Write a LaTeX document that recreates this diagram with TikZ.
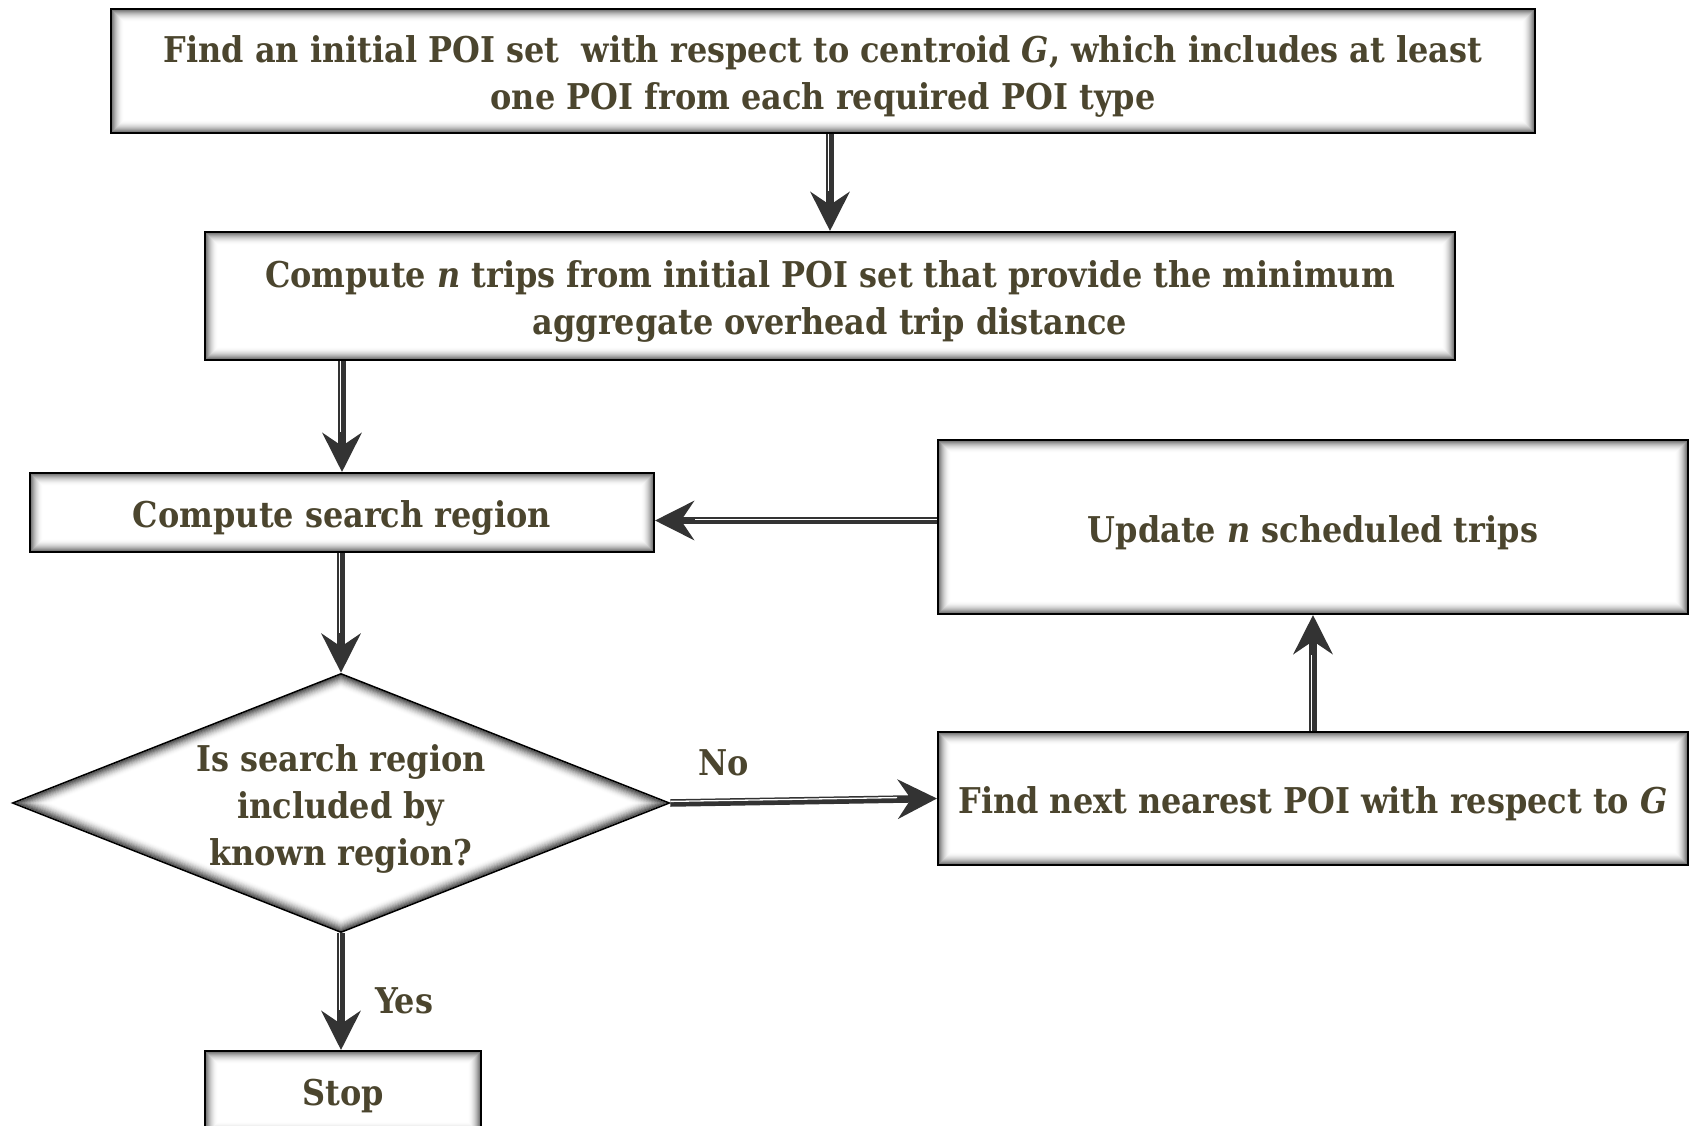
\documentclass[tikz,border=0pt]{standalone}
\usepackage{fontspec}
\setmainfont{DejaVu Serif Condensed}
\usetikzlibrary{arrows.meta,shapes.geometric,calc}
\definecolor{txt}{RGB}{75,69,46}
\definecolor{arrc}{RGB}{51,51,51}
\pgfdeclarelayer{bg}
\pgfsetlayers{bg,main}

% taller first line, so the text sits a little below the box centre
\newcommand\tup{\rule{0pt}{38pt}}

% soft grey shading just inside a rectangular node's border
\newcommand\glowrect[1]{%
  \begin{pgfonlayer}{bg}
  \foreach \d in {1,...,13}{%
    \pgfmathsetmacro\op{0.6*(1-(\d-1)/13)^2}
    \pgfmathsetmacro\dd{\d+0.5}
    \draw[black, opacity=\op, line width=1.2pt]
      ([shift={(\dd pt,-\dd pt)}]#1.north west) rectangle
      ([shift={(-\dd pt,\dd pt)}]#1.south east);
  }
  \end{pgfonlayer}}

% same shading for the decision diamond (half width 328.5, half height 129.5)
\newcommand\glowdiamond[1]{%
  \begin{pgfonlayer}{bg}
  \foreach \d in {1,...,13}{%
    \pgfmathsetmacro\op{0.6*(1-(\d-1)/13)^2}
    \pgfmathsetmacro\wd{328.5-(\d+0.5)*2.72}
    \pgfmathsetmacro\hd{129.5-(\d+0.5)*1.09}
    \draw[black, opacity=\op, line width=1.2pt]
      ([xshift=-\wd pt]#1.center) -- ([yshift=\hd pt]#1.center) --
      ([xshift=\wd pt]#1.center) -- ([yshift=-\hd pt]#1.center) -- cycle;
  }
  \end{pgfonlayer}}

\begin{document}
\begin{tikzpicture}[x=1pt,y=-1pt,
  lbl/.style={text=txt, font=\fontsize{35.5}{47}\selectfont\bfseries},
  box/.style={lbl, draw=black, line width=2pt, rectangle, inner sep=0pt, align=center},
  decision/.style={lbl, draw=black, line width=1.6pt, diamond, aspect=2.54, inner sep=0pt, align=center,
    minimum width=657pt, minimum height=259pt},
  arrline/.style={draw=arrc, line width=7.5pt,
    -{Stealth[length=39pt, width=39pt, inset=13pt, fill=arrc]}},
  stripe/.style={draw=white, line width=1.3pt, shorten >=40pt}
]
\useasboundingbox (0,0) rectangle (1690,1125);

% process boxes
\node[box, minimum width=1424pt, minimum height=124pt] (b1) at (823,71)
  {\tup Find an initial POI set~ with respect to centroid \textit{G}, which includes at least\\one POI from each required POI type};
\node[box, minimum width=1250pt, minimum height=128pt] (b2) at (830,296)
  {\tup Compute \textit{n} trips from initial POI set that provide the minimum\\aggregate overhead trip distance};
\node[box, minimum width=624pt, minimum height=79pt] (b3) at (342,512.5)
  {\tup Compute search region};
\node[box, minimum width=750pt, minimum height=174pt] (b4) at (1313,527)
  {\tup Update \textit{n} scheduled trips};
\node[decision] (dia) at (341,803)
  {\tup Is search region\\included by\\known region?};
\node[box, minimum width=750pt, minimum height=133pt] (b5) at (1313,798.5)
  {\tup Find next nearest POI with respect to \textit{G}};
\node[box, minimum width=276pt, minimum height=84pt] (stop) at (343,1093)
  {\rule{0pt}{33pt}Stop};

\glowrect{b1}
\glowrect{b2}
\glowrect{b3}
\glowrect{b4}
\glowrect{b5}
\glowrect{stop}
\glowdiamond{dia}

% connectors: dark shaft with a thin light stripe
\draw[arrline] (b1.south -| b2.north) -- (b2.north);
\draw[stripe, transform canvas={xshift=-1.6pt}] (b1.south -| b2.north) -- (b2.north);

\draw[arrline] (b2.south -| b3.north) -- (b3.north);
\draw[stripe, transform canvas={xshift=-1.6pt}] (b2.south -| b3.north) -- (b3.north);

\draw[arrline] (b3.south -| dia.north) -- (dia.north);
\draw[stripe, transform canvas={xshift=-1.6pt}] (b3.south -| dia.north) -- (dia.north);

\draw[arrline] (dia.south) -- (dia.south |- stop.north);
\draw[stripe, transform canvas={xshift=-1.6pt}] (dia.south) -- (dia.south |- stop.north);

\draw[arrline] (dia.east) -- (b5.west);
\draw[stripe, transform canvas={yshift=1.6pt}] (dia.east) -- (b5.west);

\draw[arrline] (b5.north) -- (b4.south);
\draw[stripe, transform canvas={xshift=-1.6pt}] (b5.north) -- (b4.south);

\coordinate (lp) at ([yshift=-8pt]b3.east);
\draw[arrline] (lp -| b4.west) -- (lp);
\draw[stripe, transform canvas={yshift=0.8pt}] (lp -| b4.west) -- (lp);

% branch labels
\node[lbl] (no) at (724,763) {No};
\node[lbl] (yes) at (404,1001) {Yes};
\end{tikzpicture}
\end{document}
